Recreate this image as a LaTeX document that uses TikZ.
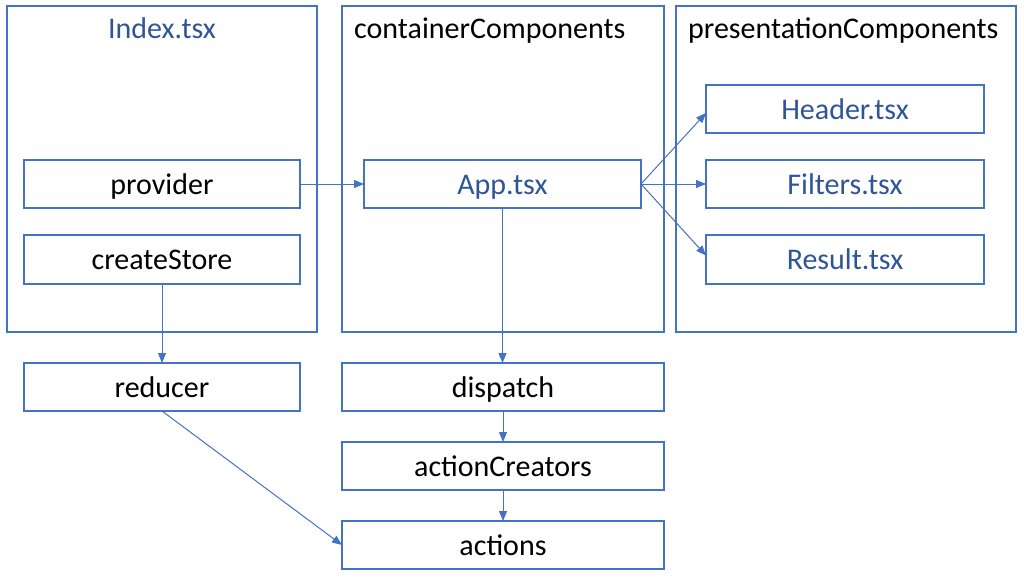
\documentclass[tikz,border=0pt]{standalone}
\usepackage{fontspec}
\setmainfont{Carlito}
\usetikzlibrary{arrows.meta,calc}
\definecolor{stroke}{HTML}{4472C4}
\definecolor{bluetext}{HTML}{2F5597}
\begin{document}
\begin{tikzpicture}[x=1pt,y=-1pt,
  container/.style={draw=stroke,line width=2pt,inner sep=0pt,outer sep=0pt,minimum height=326pt},
  item/.style={draw=stroke,line width=2pt,inner sep=0pt,outer sep=0pt,minimum height=48pt,
    text height=21pt,text depth=1pt,
    font=\fontsize{30}{36}\selectfont,text=black},
  bitem/.style={item,text=bluetext},
  title/.style={inner sep=0pt,font=\fontsize{30}{36}\selectfont,text=black},
  conn/.style={draw=stroke,line width=1pt,-{Triangle[length=10pt,width=8pt]}}]
\useasboundingbox (0,0) rectangle (1024,578);
% containers
\node[container,minimum width=310pt] (index) at (162,169) {};
\node[container,minimum width=322pt] (cont) at (503,169) {};
\node[container,minimum width=340pt] (pres) at (846,169) {};
\node[title,anchor=base,text=bluetext] (indext) at (162,39) {Index.tsx};
\node[title,anchor=base west] (contt) at (354,39) {containerComponents};
\node[title,anchor=base west] (prest) at (688,39) {presentationComponents};
% inner boxes
\node[item,minimum width=276pt] (provider) at (162,184) {provider};
\node[item,minimum width=276pt,minimum height=49pt] (createStore) at (162,259.5) {createStore};
\node[bitem,minimum width=277pt] (app) at (502.5,184) {App.tsx};
\node[bitem,minimum width=278pt] (header) at (845,109) {Header.tsx};
\node[bitem,minimum width=278pt] (filters) at (845,184) {Filters.tsx};
\node[bitem,minimum width=278pt,minimum height=49pt] (result) at (845,259.5) {Result.tsx};
% lower boxes
\node[item,minimum width=276pt] (reducer) at (162,387) {reducer};
\node[item,minimum width=322pt] (dispatch) at (503,387) {dispatch};
\node[item,minimum width=322pt] (actionCreators) at (503,466) {actionCreators};
\node[item,minimum width=322pt] (actions) at (503,545) {actions};
% connectors
\draw[conn] (provider.east) -- (app.west);
\draw[conn] (createStore) -- (reducer);
\draw[conn] (app.south) -- (app.south |- dispatch.north);
\draw[conn] (dispatch) -- (actionCreators);
\draw[conn] (actionCreators) -- (actions);
\draw[conn] (reducer.south) -- (actions.west);
\draw[conn] (app.east) -- ($(header.west)+(0,4)$);
\draw[conn] (app.east) -- (filters.west);
\draw[conn] (app.east) -- ($(result.west)+(0,-4)$);
\end{tikzpicture}
\end{document}
